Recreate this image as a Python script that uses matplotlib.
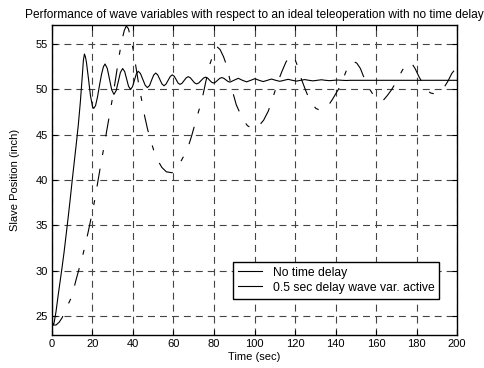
import matplotlib
matplotlib.use("Agg")
import matplotlib.pyplot as plt
from matplotlib.lines import Line2D

plt.rcParams['font.family'] = ['Liberation Sans', 'DejaVu Sans']
plt.rcParams['lines.scale_dashes'] = False

# No time delay (solid)
t_nd = [0, 0.6, 1, 2, 3, 4, 5, 6, 7, 8, 9, 10, 11, 12, 13, 14, 15, 15.5, 16.0, 16.5,
        17.0, 18.0, 19.0, 20.0, 20.6, 21.5, 22.5, 23.5, 24.5, 25.4, 26.2,
        27.3, 28.4, 29.5, 30.6, 31.7, 32.75, 33.8, 34.9, 35.9, 36.85, 37.8, 38.8,
        39.75, 40.7, 41.65, 42.6, 43.7, 44.85, 46.0, 47.1, 48.2, 49.15, 50.2, 51.2,
        52.2, 53.25, 54.3, 55.3, 56.3, 57.35, 58.4, 59.4, 60.35, 61.3, 62.25, 63.2,
        64.2, 65.25, 66.3, 67.3, 68.3, 69.35, 70.4, 71.4, 72.5, 73.65, 74.8, 75.9,
        76.85, 77.8, 78.75, 79.7, 80.7, 81.75, 82.8, 83.8, 84.8, 85.85, 86.9, 87.9,
        90.0, 92.0, 94.05, 96.1, 98.15, 100.2, 102.25, 104.3, 106.35, 108.4, 110.45,
        112.5, 114.55, 116.6, 118.65, 120.7, 122.75, 124.8, 126.85, 128.9, 130.95,
        133.0, 135.05, 137.1, 139.15, 141.2, 143.25, 145.3, 147.35, 200]
y_nd = [24.4, 24.0, 24.2, 25.5, 27.2, 28.8, 30.4, 32.1, 34.0, 35.9, 37.9, 40.0, 42.0, 44.0, 46.1, 48.6, 51.6, 53.2, 53.9, 53.6,
        53.0, 51.2, 49.3, 48.1, 47.9, 48.2, 49.2, 50.5, 51.7, 52.5, 52.8,
        52.31, 51.12, 49.94, 49.45, 49.87, 50.88, 51.88, 52.3, 51.96, 51.15, 50.34, 50.0,
        50.29, 51.0, 51.71, 52.0, 51.74, 51.1, 50.46, 50.2, 50.43, 51.0, 51.57, 51.8,
        51.6, 51.1, 50.6, 50.4, 50.58, 51.0, 51.42, 51.6, 51.45, 51.08, 50.7, 50.55,
        50.67, 50.98, 51.28, 51.4, 51.28, 51.0, 50.72, 50.6, 50.71, 50.98, 51.24, 51.35,
        51.25, 51.02, 50.8, 50.7, 50.79, 51.0, 51.21, 51.3, 51.23, 51.05, 50.87, 50.8,
        51.02, 51.22, 51.0, 50.83, 51.0, 51.18, 51.0, 50.86, 51.0, 51.14, 51.0,
        50.89, 51.0, 51.11, 51.0, 50.91, 51.0, 51.08, 51.0, 50.94, 51.0,
        51.06, 51.0, 50.96, 51.0, 51.03, 51.0, 50.98, 51.0, 51.0]

# 0.5 sec delay, wave variables active (dash-dot)
t_wv = [0, 0.6, 2, 3.5, 5, 6.4, 8, 9.7, 11.9, 13.5, 15.2, 16.5, 18.0, 19.5, 21.2, 22.4,
        24.0, 25.3, 27.0, 28.5, 30.0, 31.5, 33.0, 34.5, 35.7, 36.7, 37.7, 38.7, 40.0,
        41.5, 43.0, 44.3, 45.8, 47.2, 48.8, 50.5, 52.2, 54.2, 56.5, 59.3, 61.6, 64.0,
        66.9, 69.0, 71.5, 73.9, 76.0, 78.0, 79.8, 81.5, 83.0, 84.7, 86.3, 87.9, 89.5,
        91.0, 92.8, 94.5, 96.5, 99.3, 101.9, 104.5, 106.8, 108.5, 110.1, 111.5, 113.4,
        115.5, 117.7, 119.8, 121.6, 123.2, 124.9, 126.5, 128.2, 130.3, 132.3, 134.5,
        136.4, 138.5, 140.6, 142.5, 144.7, 146.5, 148.5, 150.5, 152.3, 153.7, 155.5,
        157.2, 159.2, 161.3, 163.6, 165.5, 167.5, 169.4, 171.5, 173.5, 175.3, 177.3,
        179.3, 181.2, 183.2, 185.0, 187.0, 189.0, 191.6, 193.7, 195.5, 197.4, 199.0, 200.0]
y_wv = [24.4, 24.0, 24.0, 24.3, 24.8, 25.5, 26.3, 27.1, 29.0, 30.3, 31.7, 32.9, 34.4, 36.0, 37.9, 39.5,
        41.6, 43.2, 45.4, 47.3, 49.2, 51.3, 53.5, 55.4, 56.5, 57.0, 56.7, 55.9, 54.5,
        52.4, 50.3, 48.8, 47.0, 45.6, 44.3, 43.1, 42.2, 41.4, 40.9, 40.8, 41.4, 42.2,
        43.4, 44.9, 46.9, 48.7, 50.9, 52.8, 54.0, 54.7, 54.4, 53.6, 52.6, 51.0, 49.5,
        48.3, 47.4, 46.6, 46.0, 45.6, 45.9, 46.6, 47.6, 48.7, 49.8, 50.8, 51.9,
        53.0, 53.8, 53.4, 52.4, 51.1, 50.1, 49.2, 48.5, 47.9, 47.7, 47.8,
        48.2, 48.9, 49.7, 50.4, 51.7, 52.7, 53.1, 52.9, 52.3, 51.5, 50.6,
        49.9, 49.2, 48.8, 48.8, 49.3, 49.9, 50.6, 51.5, 52.3, 52.8, 53.0,
        52.3, 51.4, 50.6, 49.9, 49.6, 49.5, 49.8, 50.25, 50.9, 51.75, 52.2, 52.5]

labels = ['No time delay', '0.5 sec delay wave var. active']
title = 'Performance of wave variables with respect to an ideal teleoperation with no time delay'
x_ticks = [0, 20, 40, 60, 80, 100, 120, 140, 160, 180, 200]
y_ticks = [25, 30, 35, 40, 45, 50, 55]

fig = plt.figure(figsize=(4.85, 3.68), dpi=100)
ax = fig.add_axes([0.1072, 0.0897, 0.8351, 0.8423])

ax.plot(t_nd, y_nd, color='black', lw=0.8, solid_joinstyle='round')
ax.plot(t_wv, y_wv, color='black', lw=0.8, linestyle=(0, (13, 10, 3.6, 10)))

ax.set_xlim(0, 200)
ax.set_ylim(22.9, 57.1)
ax.set_xticks(x_ticks)
ax.set_yticks(y_ticks)
ax.tick_params(direction='in', top=True, right=True, length=3.5, width=0.8,
               labelsize=8, pad=3, colors='black')
for s in ax.spines.values():
    s.set_linewidth(1.0)
    s.set_color('black')
ax.grid(True, color='#444444', lw=0.8, linestyle=(0, (5, 3.6)))
ax.set_axisbelow(True)

ax.set_title(title, fontsize=8.6, pad=5)
ax.set_xlabel('Time (sec)', fontsize=8, labelpad=2)
ax.set_ylabel('Slave Position (inch)', fontsize=8, labelpad=11)

handles = [Line2D([], [], color='black', lw=0.8), Line2D([], [], color='black', lw=0.8)]
leg = ax.legend(handles, labels, loc='upper right', bbox_to_anchor=(0.956, 0.236),
                prop={'size': 8.7}, fancybox=False, framealpha=1, edgecolor='black',
                borderpad=0.4, handlelength=2.0, handletextpad=0.9, labelspacing=0.25,
                borderaxespad=0)
leg.get_frame().set_linewidth(1.0)

fig.savefig('out.png', dpi=100)
